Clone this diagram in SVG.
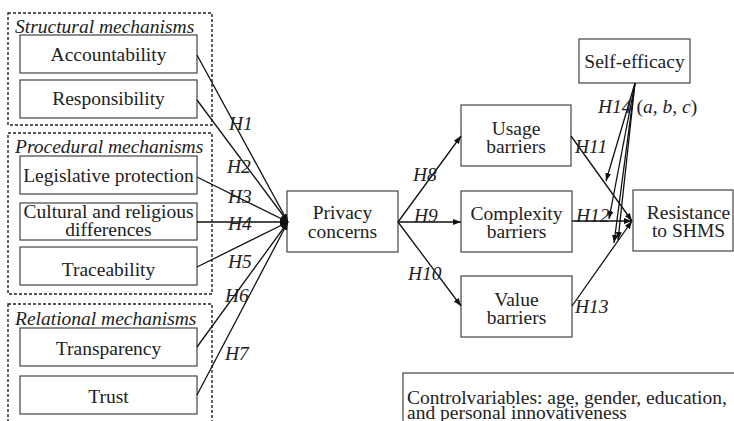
<svg xmlns="http://www.w3.org/2000/svg" width="734" height="421" viewBox="0 0 734 421">
  <style>
    .box { fill: #ffffff; stroke: #444444; stroke-width: 1.2; }
    .group { fill: none; stroke: #222222; stroke-width: 1.4; stroke-dasharray: 3 2; }
    .t { font-family: "Liberation Serif", "Times New Roman", serif; font-size: 19.5px; fill: #222222; }
    .c { text-anchor: middle; }
    .i { font-style: italic; }
    .h { font-family: "Liberation Serif", "Times New Roman", serif; font-size: 19.5px; font-style: italic; fill: #222222; }
    .link { fill: none; stroke: #111111; stroke-width: 1.3; marker-end: url(#arrow); }
  </style>
  <defs>
    <marker id="arrow" markerUnits="userSpaceOnUse" markerWidth="9" markerHeight="7" refX="8" refY="3" orient="auto">
      <path d="M0,0 L8,3 L0,6 z" fill="#111111"/>
    </marker>
  </defs>

  <rect width="734" height="421" fill="#ffffff"/>

  <!-- mechanism groups -->
  <g id="structural-mechanisms">
    <rect class="group" x="8" y="13" width="204" height="112"/>
    <text class="t i" x="15" y="33">Structural mechanisms</text>
  </g>
  <g id="procedural-mechanisms">
    <rect class="group" x="8" y="133" width="204" height="161"/>
    <text class="t i" x="15" y="153">Procedural mechanisms</text>
  </g>
  <g id="relational-mechanisms">
    <rect class="group" x="8" y="304" width="204" height="130"/>
    <text class="t i" x="15" y="325">Relational mechanisms</text>
  </g>

  <!-- antecedent nodes -->
  <g id="accountability">
    <rect class="box" x="20" y="35" width="177" height="38"/>
    <text class="t c" x="108.5" y="61">Accountability</text>
  </g>
  <g id="responsibility">
    <rect class="box" x="20" y="80" width="177" height="38"/>
    <text class="t c" x="108.5" y="105">Responsibility</text>
  </g>
  <g id="legislative-protection">
    <rect class="box" x="20" y="156" width="177" height="38"/>
    <text class="t c" x="108.5" y="182">Legislative protection</text>
  </g>
  <g id="cultural-religious">
    <rect class="box" x="20" y="203" width="177" height="37"/>
    <text class="t c" x="108.5" y="218">Cultural and religious</text>
    <text class="t c" x="108.5" y="236">differences</text>
  </g>
  <g id="traceability">
    <rect class="box" x="20" y="247" width="177" height="38"/>
    <text class="t c" x="108.5" y="276">Traceability</text>
  </g>
  <g id="transparency">
    <rect class="box" x="20" y="328" width="177" height="38"/>
    <text class="t c" x="108.5" y="355">Transparency</text>
  </g>
  <g id="trust">
    <rect class="box" x="20" y="376" width="177" height="38"/>
    <text class="t c" x="108.5" y="403">Trust</text>
  </g>

  <!-- mediator and outcome nodes -->
  <g id="privacy-concerns">
    <rect class="box" x="287" y="191" width="111" height="61"/>
    <text class="t c" x="342.5" y="219">Privacy</text>
    <text class="t c" x="342.5" y="238">concerns</text>
  </g>
  <g id="usage-barriers">
    <rect class="box" x="461" y="105" width="110" height="61"/>
    <text class="t c" x="516" y="135">Usage</text>
    <text class="t c" x="516" y="153">barriers</text>
  </g>
  <g id="complexity-barriers">
    <rect class="box" x="461" y="191" width="111" height="61"/>
    <text class="t c" x="516.5" y="220">Complexity</text>
    <text class="t c" x="516.5" y="238">barriers</text>
  </g>
  <g id="value-barriers">
    <rect class="box" x="461" y="276" width="111" height="61"/>
    <text class="t c" x="516.5" y="306">Value</text>
    <text class="t c" x="516.5" y="324">barriers</text>
  </g>
  <g id="resistance">
    <rect class="box" x="633" y="190" width="100" height="61"/>
    <text class="t c" x="688.5" y="219">Resistance</text>
    <text class="t c" x="688.5" y="237">to SHMS</text>
  </g>
  <g id="self-efficacy">
    <rect class="box" x="579" y="39" width="111" height="44"/>
    <text class="t c" x="634.5" y="68">Self-efficacy</text>
  </g>
  <g id="control-variables">
    <rect class="box" x="403" y="373" width="340" height="60"/>
    <text class="t" x="407" y="404">Controlvariables: age, gender, education,</text>
    <text class="t" x="407" y="419">and personal innovativeness</text>
  </g>

  <!-- connectors -->
  <g id="connectors">
    <line class="link" x1="197" y1="55" x2="288" y2="222"/>
    <line class="link" x1="197" y1="100" x2="288" y2="222"/>
    <line class="link" x1="197" y1="177" x2="288" y2="222"/>
    <line class="link" x1="197" y1="222" x2="288" y2="222"/>
    <line class="link" x1="197" y1="267" x2="288" y2="222"/>
    <line class="link" x1="197" y1="347" x2="288" y2="222"/>
    <line class="link" x1="197" y1="395" x2="288" y2="222"/>

    <line class="link" x1="398" y1="222" x2="461" y2="136"/>
    <line class="link" x1="398" y1="222" x2="461" y2="222"/>
    <line class="link" x1="398" y1="222" x2="461" y2="306"/>

    <line class="link" x1="571" y1="136" x2="632" y2="221"/>
    <line class="link" x1="572" y1="221" x2="632" y2="221"/>
    <line class="link" x1="572" y1="306" x2="632" y2="221"/>

    <line class="link" x1="635" y1="83" x2="606" y2="181"/>
    <line class="link" x1="635" y1="83" x2="609" y2="219"/>
    <line class="link" x1="635" y1="83" x2="614" y2="243"/>
    <line class="link" x1="635" y1="83" x2="618" y2="240"/>
  </g>

  <!-- hypothesis labels -->
  <g id="hypothesis-labels">
    <text class="h" x="229" y="130">H1</text>
    <text class="h" x="227" y="173">H2</text>
    <text class="h" x="228" y="203">H3</text>
    <text class="h" x="228" y="230">H4</text>
    <text class="h" x="228" y="268">H5</text>
    <text class="h" x="225" y="302">H6</text>
    <text class="h" x="225" y="360">H7</text>
    <text class="h" x="413" y="181">H8</text>
    <text class="h" x="414" y="222">H9</text>
    <text class="h" x="408" y="280">H10</text>
    <text class="h" x="575" y="153">H11</text>
    <text class="h" x="576" y="222">H12</text>
    <text class="h" x="575" y="313">H13</text>
    <text class="t" x="598" y="113"><tspan class="i">H14</tspan> (<tspan class="i">a</tspan>, <tspan class="i">b</tspan>, <tspan class="i">c</tspan>)</text>
  </g>
</svg>
